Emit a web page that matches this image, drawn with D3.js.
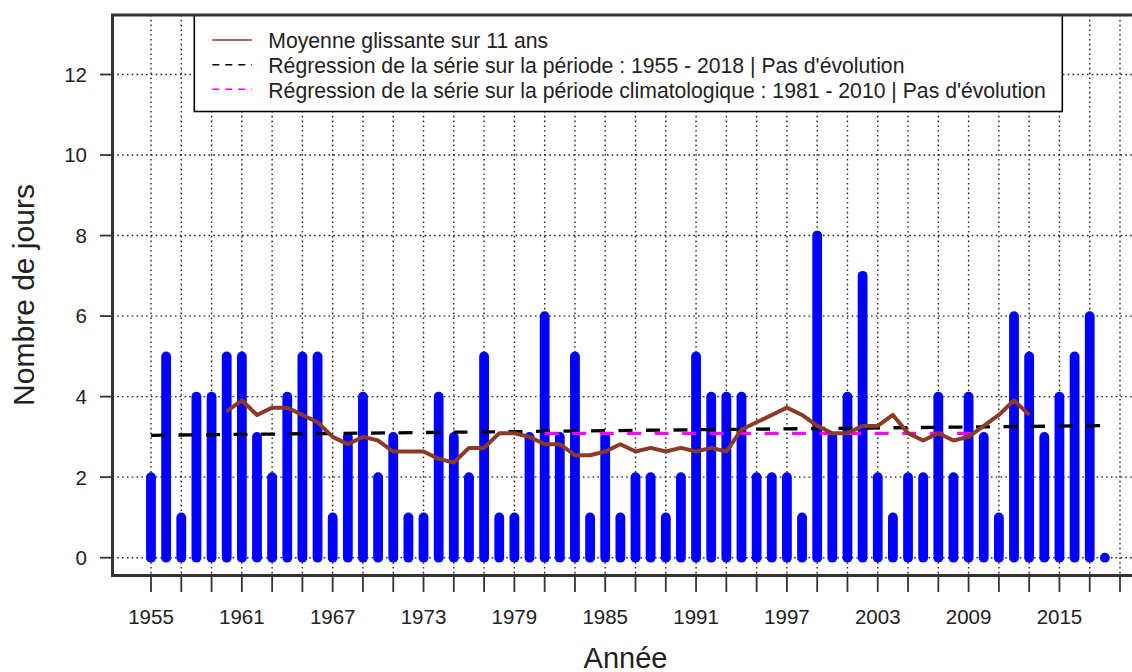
<!DOCTYPE html>
<html>
<head>
<meta charset="utf-8">
<script src="https://cdn.jsdelivr.net/npm/d3@7"></script>
<style>
  html, body { margin: 0; padding: 0; background: #fff; }
  svg { display: block; font-family: "Liberation Sans", Arial, sans-serif; }
</style>
</head>
<body>
<svg id="chart" width="1132" height="672"></svg>
<script>
// ---- data ----
const years = [1955,1956,1957,1958,1959,1960,1961,1962,1963,1964,1965,1966,1967,1968,1969,
  1970,1971,1972,1973,1974,1975,1976,1977,1978,1979,1980,1981,1982,1983,1984,1985,1986,1987,
  1988,1989,1990,1991,1992,1993,1994,1995,1996,1997,1998,1999,2000,2001,2002,2003,2004,2005,
  2006,2007,2008,2009,2010,2011,2012,2013,2014,2015,2016,2017,2018];
const days = [2,5,1,4,4,5,5,3,2,4,5,5,1,3,4,
  2,3,1,1,4,3,2,5,1,1,3,6,3,5,1,3,1,2,
  2,1,2,5,4,4,4,2,2,2,1,8,3,4,7,2,1,2,
  2,4,2,4,3,1,6,5,3,4,5,6,0];
const maYears = [1960,1961,1962,1963,1964,1965,1966,1967,1968,1969,1970,1971,1972,1973,1974,
  1975,1976,1977,1978,1979,1980,1981,1982,1983,1984,1985,1986,1987,1988,1989,1990,1991,1992,
  1993,1994,1995,1996,1997,1998,1999,2000,2001,2002,2003,2004,2005,2006,2007,2008,2009,2010,
  2011,2012,2013];
const maValues = [3.636,3.909,3.545,3.727,3.727,3.545,3.364,3.000,2.818,3.000,
  2.909,2.636,2.636,2.636,2.455,2.364,2.727,2.727,3.091,3.091,
  3.000,2.818,2.818,2.545,2.545,2.636,2.818,2.636,2.727,2.636,
  2.727,2.636,2.727,2.636,3.182,3.364,3.545,3.727,3.545,3.273,
  3.091,3.091,3.273,3.273,3.545,3.091,2.909,3.091,2.909,3.000,
  3.273,3.545,3.909,3.545];
const regAllYears = [1955, 2018];
const regAllValues = [3.04, 3.28];
const regClimYears = [1981, 2010];
const regClimValues = [3.09, 3.09];
const xTickYears = [1955,1957,1959,1961,1963,1965,1967,1969,1971,1973,1975,1977,1979,1981,1983,
  1985,1987,1989,1991,1993,1995,1997,1999,2001,2003,2005,2007,2009,2011,2013,2015,2017,2019];
const xLabelYears = [1955,1961,1967,1973,1979,1985,1991,1997,2003,2009,2015];
const yTicks = [0,2,4,6,8,10,12];
const legendLabels = [
  "Moyenne glissante sur 11 ans",
  "Régression de la série sur la période : 1955 - 2018 | Pas d'évolution",
  "Régression de la série sur la période climatologique : 1981 - 2010 | Pas d'évolution"
];
const xTitle = "Année";
const yTitle = "Nombre de jours";

// ---- layout ----
const svg = d3.select("#chart");
const frame = { left: 112.5, top: 15, bottom: 575.5, right: 1160 };
const x = d3.scaleLinear().domain([1955, 2019]).range([151, 1120]);
const y = d3.scaleLinear().domain([0, 12]).range([557.7, 74.5]);
const textCol = "#222";
const gridCol = "#222";

// grid
const grid = svg.append("g");
grid.selectAll("line.v").data(xTickYears).join("line")
  .attr("x1", d => x(d)).attr("x2", d => x(d))
  .attr("y1", frame.top).attr("y2", frame.bottom)
  .attr("stroke", gridCol).attr("stroke-width", 1.4).attr("stroke-dasharray", "1.6,3.2");
grid.selectAll("line.h").data(yTicks).join("line")
  .attr("x1", frame.left).attr("x2", frame.right)
  .attr("y1", d => y(d)).attr("y2", d => y(d))
  .attr("stroke", gridCol).attr("stroke-width", 1.4).attr("stroke-dasharray", "1.6,3.2");

// bars (type "h" with round caps)
svg.append("g").selectAll("line").data(years).join("line")
  .attr("x1", d => x(d)).attr("x2", d => x(d))
  .attr("y1", y(0)).attr("y2", (d, i) => y(days[i]))
  .attr("stroke", "#0000ff").attr("stroke-width", 9.8).attr("stroke-linecap", "round");

// regression lines
const line = d3.line().x(d => x(d[0])).y(d => y(d[1]));
svg.append("path")
  .attr("d", line(regAllYears.map((yr, i) => [yr, regAllValues[i]])))
  .attr("fill", "none").attr("stroke", "#000").attr("stroke-width", 3.3)
  .attr("stroke-dasharray", "14,13.5");
svg.append("path")
  .attr("d", line(regClimYears.map((yr, i) => [yr, regClimValues[i]])))
  .attr("fill", "none").attr("stroke", "#ff00ff").attr("stroke-width", 3.3)
  .attr("stroke-dasharray", "14,13.5");

// moving average
svg.append("path")
  .attr("d", line(maYears.map((yr, i) => [yr, maValues[i]])))
  .attr("fill", "none").attr("stroke", "#8b3a26").attr("stroke-width", 4)
  .attr("stroke-linejoin", "round").attr("stroke-linecap", "butt");

// legend
const lg = svg.append("g");
lg.append("rect").attr("x", 194.3).attr("y", frame.top).attr("width", 868).attr("height", 96.5)
  .attr("fill", "#fff").attr("stroke", "#000").attr("stroke-width", 1.6);
const legendStyles = [
  { color: "#8b3a26", dash: null },
  { color: "#000", dash: "7,6" },
  { color: "#ff00ff", dash: "7,6" }
];
const rowY = [40, 64.7, 89.3];
legendLabels.forEach((lab, i) => {
  const l = lg.append("line").attr("x1", 212.3).attr("x2", 252).attr("y1", rowY[i]).attr("y2", rowY[i])
    .attr("stroke", legendStyles[i].color).attr("stroke-width", 1.5);
  if (legendStyles[i].dash) l.attr("stroke-dasharray", legendStyles[i].dash);
  lg.append("text").attr("x", 268.3).attr("y", rowY[i] + 8.3)
    .attr("font-size", 21.2).attr("fill", textCol).text(lab);
});

// y axis ticks/labels
const yAx = svg.append("g");
yAx.selectAll("line").data(yTicks).join("line")
  .attr("x1", 100).attr("x2", frame.left).attr("y1", d => y(d)).attr("y2", d => y(d))
  .attr("stroke", "#333").attr("stroke-width", 1.8);
yAx.selectAll("text").data(yTicks).join("text")
  .attr("x", 87).attr("y", d => y(d)).attr("dy", "0.36em")
  .attr("text-anchor", "end").attr("font-size", 20.5).attr("fill", textCol).text(d => d);

// x axis ticks/labels
const xAx = svg.append("g");
xAx.selectAll("line").data(xTickYears).join("line")
  .attr("x1", d => x(d)).attr("x2", d => x(d)).attr("y1", frame.bottom).attr("y2", 592)
  .attr("stroke", "#333").attr("stroke-width", 1.8);
xAx.selectAll("text").data(xLabelYears).join("text")
  .attr("x", d => x(d)).attr("y", 623.5)
  .attr("text-anchor", "middle").attr("font-size", 20.5).attr("fill", textCol).text(d => d);

// frame
svg.append("rect").attr("x", frame.left).attr("y", frame.top)
  .attr("width", frame.right - frame.left).attr("height", frame.bottom - frame.top)
  .attr("fill", "none").attr("stroke", "#333").attr("stroke-width", 3);

// titles
svg.append("text").attr("x", 625.5).attr("y", 668).attr("text-anchor", "middle")
  .attr("font-size", 29).attr("fill", textCol).text(xTitle);
svg.append("text").attr("transform", "translate(34,295) rotate(-90)")
  .attr("text-anchor", "middle").attr("font-size", 30).attr("fill", textCol).text(yTitle);
</script>
</body>
</html>
